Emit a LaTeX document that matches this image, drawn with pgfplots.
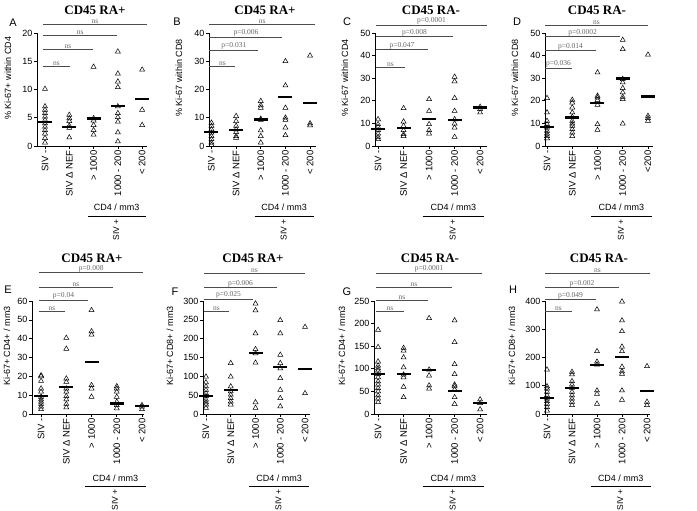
\documentclass[border=0pt]{standalone}
\usepackage{fontspec}
\setmainfont{Liberation Sans}
\newfontfamily\serif{Liberation Serif}
\usepackage{pgfplots}
\pgfplotsset{compat=1.18}

\newcommand\tickfont{\fontsize{9.5}{10}\selectfont}
\newcommand\sigfont{\serif\fontsize{7.5}{7.5}\selectfont}
% significance bar: end category, y value, label
\newcommand\sig[3]{\addplot[sigline] coordinates {(-0.08,#2) (#1,#2)}
  node[pos=0.5,above,inner sep=0.5pt,font=\sigfont,text=black!60]{#3};}
% "CD4 / mm3" bracket under the SIV+ groups (rel. y of text, line, SIV+)
\newcommand\cdfour[3]{%
  \node[font=\fontsize{9}{9}\selectfont] at ({axis cs:2.95,0}|-{rel axis cs:0,#1}) {CD4 / mm3};
  \draw[line width=0.6pt] ({axis cs:1.75,0}|-{rel axis cs:0,#2}) -- ({axis cs:4.15,0}|-{rel axis cs:0,#2});
  \node[font=\fontsize{8.5}{8.5}\selectfont,rotate=90,anchor=east,inner sep=1pt] at ({axis cs:2.93,0}|-{rel axis cs:0,#3}) {SIV +};}

\pgfplotsset{
  ylab/.style={every axis y label/.style={at={(axis description cs:0,0.6)},
      xshift=#1, rotate=90, anchor=center, font=\fontsize{9}{9}\selectfont}},
  panel/.style={
    scale only axis, anchor=south west, height=113pt,
    axis x line=bottom, axis y line=left,
    axis line style={-, line width=0.6pt},
    tick align=outside, major tick length=3pt,
    tick style={black, line width=0.6pt},
    ymin=0, clip=false,
    xtick={0,1,2,3,4},
    xticklabels={SIV -, SIV Δ NEF, > 1000, 1000 - 200, < 200},
    xticklabel style={rotate=90, anchor=east, font=\tickfont, inner sep=1.5pt},
    yticklabel style={font=\fontsize{9}{9}\selectfont, inner sep=1.5pt},
    /pgf/number format/assume math mode=true,
    ylab=-30pt,
  },
  tri/.style={only marks, mark=triangle, mark size=2.9pt, black,
    mark options={line width=0.5pt}},
  med/.style={only marks, mark=-, mark size=7pt, black,
    mark options={line width=2.2pt}},
  sigline/.style={black!70, line width=0.9pt},
}

\begin{document}
\begin{tikzpicture}[x=1pt,y=1pt]
\path[use as bounding box] (0,0) rectangle (697,511);

% ---------------- A ----------------
\begin{axis}[panel, at={(37pt,365pt)}, width=110pt, xmin=-0.33, xmax=4.2,
  ymax=20, ytick={0,5,...,20}, ylabel={\% Ki-67+ within CD4}, ylab=-29pt]
\addplot[tri] coordinates {(0,10.1)(0,7.0)(0,6.4)(0,5.8)(0,5.2)(0,4.6)(0,4.0)(0,3.4)(0,2.8)(0,2.2)(0,1.4)(0,0.6)
 (1,5.5)(1,4.9)(1,4.4)(1,3.6)(1,3.2)(1,1.5)
 (2,14.0)(2,4.9)(2,4.5)(2,3.7)(2,2.8)(2,2.0)
 (3,16.7)(3,12.8)(3,11.4)(3,10.4)(3,7.0)(3,5.8)(3,5.1)(3,4.3)(3,2.4)(3,0.8)
 (4,13.5)(4,6.4)(4,3.7)};
\addplot[med] coordinates {(0,4.3)(1,3.4)(2,4.85)(3,7.1)(4,8.3)};
\sig{4.2}{21.5}{ns}\sig{2.97}{19.5}{ns}\sig{1.98}{17.0}{ns}\sig{1.03}{14.1}{ns}
\cdfour{-0.54}{-0.62}{-0.64}
\end{axis}

% ---------------- B ----------------
\begin{axis}[panel, at={(209pt,365pt)}, width=107pt, xmin=-0.1, xmax=4.24,
  ymax=40, ytick={0,10,...,40}, ylabel={\% Ki-67 within CD8}]
\addplot[tri] coordinates {(0,8.2)(0,7.1)(0,5.9)(0,4.7)(0,3.5)(0,2.4)(0,1.2)(0,0.4)
 (1,10.6)(1,8.8)(1,7.1)(1,5.9)(1,4.9)(1,3.5)(1,2.9)
 (2,15.9)(2,14.4)(2,13.5)(2,9.6)(2,9.2)(2,5.5)(2,3.5)(2,1.2)
 (3,30.0)(3,21.4)(3,13.5)(3,10.0)(3,9.2)(3,6.5)(3,3.8)
 (4,32.0)(4,8.0)(4,7.3)};
\addplot[med] coordinates {(0,4.9)(1,5.6)(2,9.4)(3,17.3)(4,15.3)};
\sig{4.2}{42.9}{ns}\sig{2.88}{38.6}{p=0.006}\sig{1.9}{33.9}{p=0.031}\sig{0.97}{28.0}{ns}
\cdfour{-0.54}{-0.62}{-0.64}
\end{axis}

% ---------------- C ----------------
\begin{axis}[panel, at={(375pt,365pt)}, width=112pt, xmin=-0.12, xmax=4.27,
  ymax=50, ytick={0,10,...,50}, ylabel={\% Ki-67 within CD4}]
\addplot[tri] coordinates {(0,11.8)(0,9.6)(0,8.4)(0,7.0)(0,5.5)(0,4.0)(0,3.0)
 (1,16.7)(1,10.8)(1,8.9)(1,7.0)(1,5.2)(1,4.4)
 (2,20.7)(2,15.5)(2,9.6)(2,7.0)(2,5.5)
 (3,30.6)(3,28.6)(3,21.2)(3,15.5)(3,11.8)(3,9.9)(3,8.1)(3,4.0)
 (4,17.3)(4,16.3)(4,14.8)};
\addplot[med] coordinates {(0,7.4)(1,8.1)(2,12.0)(3,11.5)(4,17.0)};
\sig{4.27}{53.3}{p=0.0001}\sig{2.94}{48.4}{p=0.008}\sig{1.96}{42.5}{p=0.047}\sig{1.06}{34.8}{ns}
\cdfour{-0.54}{-0.62}{-0.64}
\end{axis}

% ---------------- D ----------------
\begin{axis}[panel, at={(545pt,365pt)}, width=108pt, xmin=-0.08, xmax=4.2,
  ymax=50, ytick={0,10,...,50}, ylabel={\% Ki-67 within CD8},
  xticklabels={SIV -, SIV Δ NEF, > 1000, 1000 - 200, <200}]
\addplot[tri] coordinates {(0,21.2)(0,14.8)(0,11.1)(0,9.6)(0,8.1)(0,6.7)(0,5.5)(0,4.4)(0,3.4)
 (1,20.4)(1,19.2)(1,17.0)(1,14.8)(1,12.9)(1,11.1)(1,9.9)(1,8.9)(1,7.4)(1,5.9)(1,4.4)
 (2,32.5)(2,22.2)(2,21.4)(2,20.3)(2,18.2)(2,9.6)(2,7.1)
 (3,46.9)(3,42.8)(3,29.6)(3,28.1)(3,25.6)(3,23.7)(3,21.7)(3,20.7)(3,9.9)
 (4,40.4)(4,13.3)(4,12.3)(4,11.1)};
\addplot[med] coordinates {(0,8.4)(1,12.6)(2,19.2)(3,29.9)(4,21.9)};
\sig{4.0}{53.3}{ns}\sig{2.9}{48.4}{p=0.0002}\sig{1.94}{42.2}{p=0.014}\sig{0.99}{34.5}{p=0.036}
\cdfour{-0.54}{-0.62}{-0.64}
\end{axis}

% ---------------- E ----------------
\begin{axis}[panel, at={(32pt,97pt)}, width=112pt, xmin=-0.36, xmax=4.08,
  ymax=60, ytick={0,10,...,60}, ylabel={Ki-67+ CD4+ / mm3}, ylab=-25pt]
\addplot[tri] coordinates {(0,20.5)(0,20.0)(0,17.5)(0,13.5)(0,11.8)(0,9.1)(0,7.7)(0,6.5)(0,5.3)(0,3.9)(0,2.5)
 (1,40.4)(1,34.6)(1,18.8)(1,17.0)(1,13.5)(1,11.8)(1,9.5)(1,7.7)(1,5.3)(1,3.5)
 (2,55.1)(2,43.9)(2,42.1)(2,15.3)(2,13.5)(2,9.1)
 (3,14.7)(3,13.5)(3,11.8)(3,9.1)(3,6.5)(3,4.7)(3,3.0)
 (4,4.7)(4,3.9)(4,2.5)};
\addplot[med] coordinates {(0,9.5)(1,14.4)(2,27.5)(3,5.6)(4,4.2)};
\sig{4.05}{74.9}{p=0.008}\sig{2.85}{67.0}{ns}\sig{1.86}{60.4}{p=0.04}\sig{0.95}{54.2}{ns}
\cdfour{-0.566}{-0.637}{-0.655}
\end{axis}

% ---------------- F ----------------
\begin{axis}[panel, at={(203pt,97pt)}, width=107pt, xmin=-0.12, xmax=4.2,
  ymax=300, ytick={0,50,...,300}, ylabel={Ki-67+ CD8+ / mm3}, ylab=-33pt]
\addplot[tri] coordinates {(0,99)(0,84)(0,73)(0,64)(0,55)(0,47)(0,38)(0,31)(0,25)(0,16)
 (1,135)(1,99)(1,73)(1,60)(1,51)(1,42)(1,33)(1,25)
 (2,293)(2,275)(2,214)(2,172)(2,161)(2,136)(2,31)(2,16)
 (3,249)(3,214)(3,157)(3,135)(3,121)(3,95)(3,64)(3,42)(3,20)
 (4,231)(4,55)};
\addplot[med] coordinates {(0,47)(1,64)(2,161)(3,124)(4,119)};
\sig{4.0}{372}{ns}\sig{2.87}{335}{p=0.006}\sig{1.9}{304}{p=0.025}\sig{0.93}{273}{ns}
\cdfour{-0.566}{-0.637}{-0.655}
\end{axis}

% ---------------- G ----------------
\begin{axis}[panel, at={(374pt,97pt)}, width=113pt, xmin=-0.16, xmax=4.27,
  ymax=250, ytick={0,50,...,250}, ylabel={Ki-67+ CD4+ / mm3}, ylab=-32pt]
\addplot[tri] coordinates {(0,186)(0,148)(0,116)(0,107)(0,101)(0,96)(0,88)(0,81)(0,72)(0,65)(0,57)(0,50)(0,41)(0,34)(0,26)
 (1,146)(1,140)(1,125)(1,103)(1,87)(1,81)(1,60)(1,37)
 (2,212)(2,98)(2,85)(2,63)(2,56)
 (3,207)(3,159)(3,110)(3,88)(3,65)(3,61)(3,54)(3,37)(3,22)
 (4,32)(4,24)(4,10)};
\addplot[med] coordinates {(0,88)(1,88)(2,98)(3,51)(4,24)};
\sig{4.08}{311}{p=0.0001}\sig{2.9}{279}{ns}\sig{1.96}{252}{ns}\sig{1.02}{226}{ns}
\cdfour{-0.566}{-0.637}{-0.655}
\end{axis}

% ---------------- H ----------------
\begin{axis}[panel, at={(545pt,97pt)}, width=105pt, xmin=-0.08, xmax=4.12,
  ymax=400, ytick={0,100,...,400}, ylabel={Ki-67+ CD8+ / mm3}, ylab=-33pt]
\addplot[tri] coordinates {(0,157)(0,98)(0,90)(0,78)(0,66)(0,54)(0,45)(0,36)(0,24)(0,12)
 (1,149)(1,140)(1,116)(1,104)(1,92)(1,78)(1,66)(1,54)(1,43)(1,31)
 (2,370)(2,222)(2,185)(2,175)(2,83)(2,71)(2,36)
 (3,398)(3,331)(3,293)(3,238)(3,222)(3,167)(3,151)(3,142)(3,83)(3,50)
 (4,169)(4,43)(4,31)};
\addplot[med] coordinates {(0,57)(1,92)(2,173)(3,201)(4,80)};
\sig{4.12}{498}{ns}\sig{2.88}{447}{p=0.002}\sig{1.96}{404}{p=0.049}\sig{1.0}{362}{ns}
\cdfour{-0.566}{-0.637}{-0.655}
\end{axis}

% titles and panel letters
\begin{scope}[every node/.style={inner sep=0pt, font=\serif\bfseries\fontsize{13}{13}\selectfont}]
\node at (95,501) {CD45 RA+};
\node at (265,501) {CD45 RA+};
\node at (431,501) {CD45 RA-};
\node at (597,501) {CD45 RA-};
\node at (92,253) {CD45 RA+};
\node at (253,253) {CD45 RA+};
\node at (430,253) {CD45 RA-};
\node at (599,253) {CD45 RA-};
\end{scope}
\begin{scope}[every node/.style={font=\fontsize{11}{11}\selectfont}]
\node at (13,488) {A};
\node at (177,489) {B};
\node at (347,489) {C};
\node at (517,489) {D};
\node at (8,221) {E};
\node at (175,219) {F};
\node at (347,219) {G};
\node at (513,221) {H};
\end{scope}
\end{tikzpicture}
\end{document}
